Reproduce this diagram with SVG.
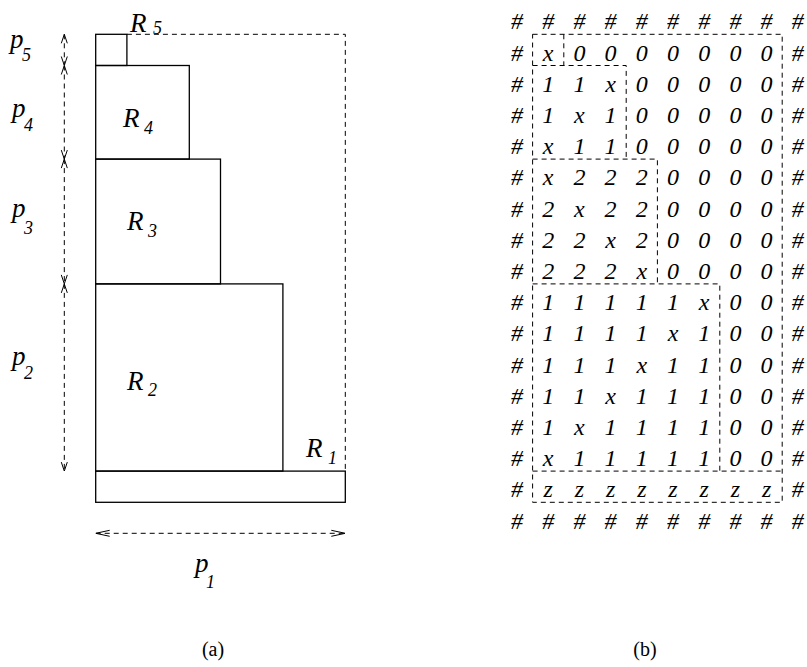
<svg xmlns="http://www.w3.org/2000/svg" width="807" height="667" viewBox="0 0 807 667">
<style>
.box{fill:none;stroke:#000;stroke-width:1.3}
.dash{fill:none;stroke:#000;stroke-width:1;stroke-dasharray:5,4}
.arr{fill:none;stroke:#000;stroke-width:1;stroke-dasharray:5,4}
.lab{font-family:"Liberation Serif",serif;font-style:italic;font-size:27px;fill:#000}
.sub{font-family:"Liberation Serif",serif;font-style:italic;font-size:18px;fill:#000}
.grid{font-family:"Liberation Serif",serif;font-style:italic;font-size:24px;fill:#000;text-anchor:middle}
.cap{font-family:"Liberation Serif",serif;font-size:20px;fill:#000;text-anchor:middle}
</style>
<defs>
<marker id="av" markerUnits="userSpaceOnUse" markerWidth="10" markerHeight="8" viewBox="0 0 10 8" refX="10" refY="4" orient="auto-start-reverse">
<path d="M1,1 L10,4 L1,7" fill="none" stroke="#000" stroke-width="1" stroke-dasharray="none"/>
</marker>
<marker id="ah" markerUnits="userSpaceOnUse" markerWidth="14" markerHeight="8" viewBox="0 0 14 8" refX="14" refY="4" orient="auto-start-reverse">
<path d="M0,1 L14,4 L0,7" fill="none" stroke="#000" stroke-width="1" stroke-dasharray="none"/>
</marker>
</defs>
<rect width="807" height="667" fill="#fff"/>

<g id="bin">
<path class="dash" d="M126.9,34.3 H345.3 V471.1"/>
</g>
<g id="R5">
<rect class="box" x="95.7" y="34.3" width="31.2" height="31.2"/>
<text class="lab" x="130" y="32">R</text><text class="sub" x="153" y="34">5</text>
</g>
<g id="R4">
<rect class="box" x="95.7" y="65.5" width="93.6" height="93.6"/>
<text class="lab" x="123" y="127">R</text><text class="sub" x="144" y="134">4</text>
</g>
<g id="R3">
<rect class="box" x="95.7" y="159.1" width="124.8" height="124.8"/>
<text class="lab" x="127" y="230">R</text><text class="sub" x="148" y="237">3</text>
</g>
<g id="R2">
<rect class="box" x="95.7" y="283.9" width="187.2" height="187.2"/>
<text class="lab" x="127" y="390">R</text><text class="sub" x="148" y="396">2</text>
</g>
<g id="R1">
<rect class="box" x="95.7" y="471.1" width="249.6" height="31.2"/>
<text class="lab" x="306" y="457">R</text><text class="sub" x="328" y="464">1</text>
</g>

<g id="connectors">
<line class="arr" x1="64.3" y1="34.3" x2="64.3" y2="65.5" marker-start="url(#av)" marker-end="url(#av)"/>
<line class="arr" x1="64.3" y1="65.5" x2="64.3" y2="159.1" marker-start="url(#av)" marker-end="url(#av)"/>
<line class="arr" x1="64.3" y1="159.1" x2="64.3" y2="283.9" marker-start="url(#av)" marker-end="url(#av)"/>
<line class="arr" x1="64.3" y1="283.9" x2="64.3" y2="471.1" marker-start="url(#av)" marker-end="url(#av)"/>
<line class="arr" x1="95.7" y1="533.3" x2="345.3" y2="533.3" marker-start="url(#ah)" marker-end="url(#ah)"/>
</g>

<g id="dims">
<text class="lab" x="10" y="48">p</text><text class="sub" x="22" y="61">5</text>
<text class="lab" x="12" y="117">p</text><text class="sub" x="24" y="131">4</text>
<text class="lab" x="12" y="217">p</text><text class="sub" x="24" y="234">3</text>
<text class="lab" x="12" y="365">p</text><text class="sub" x="24" y="379">2</text>
<text class="lab" x="195" y="572">p</text><text class="sub" x="206" y="588">1</text>
</g>

<g id="grid-regions">
<path class="dash" d="M532.6,34.3 H782.2 V502.3 H532.6 Z"/>
<path class="dash" d="M563.8,34.3 V65.5 M532.6,65.5 H626.2 V159.1 M532.6,159.1 H657.4 V283.9 M532.6,283.9 H719.8 V471.1 M532.6,471.1 H782.2"/>
</g>
<g id="grid">
<text class="grid" x="517 548.2 579.4 610.6 641.8 673 704.2 735.4 766.6 797.8" y="29.3">##########</text>
<text class="grid" x="517 548.2 579.4 610.6 641.8 673 704.2 735.4 766.6 797.8" y="60.5">#x0000000#</text>
<text class="grid" x="517 548.2 579.4 610.6 641.8 673 704.2 735.4 766.6 797.8" y="91.7">#11x00000#</text>
<text class="grid" x="517 548.2 579.4 610.6 641.8 673 704.2 735.4 766.6 797.8" y="122.9">#1x100000#</text>
<text class="grid" x="517 548.2 579.4 610.6 641.8 673 704.2 735.4 766.6 797.8" y="154.1">#x1100000#</text>
<text class="grid" x="517 548.2 579.4 610.6 641.8 673 704.2 735.4 766.6 797.8" y="185.3">#x2220000#</text>
<text class="grid" x="517 548.2 579.4 610.6 641.8 673 704.2 735.4 766.6 797.8" y="216.5">#2x220000#</text>
<text class="grid" x="517 548.2 579.4 610.6 641.8 673 704.2 735.4 766.6 797.8" y="247.7">#22x20000#</text>
<text class="grid" x="517 548.2 579.4 610.6 641.8 673 704.2 735.4 766.6 797.8" y="278.9">#222x0000#</text>
<text class="grid" x="517 548.2 579.4 610.6 641.8 673 704.2 735.4 766.6 797.8" y="310.1">#11111x00#</text>
<text class="grid" x="517 548.2 579.4 610.6 641.8 673 704.2 735.4 766.6 797.8" y="341.3">#1111x100#</text>
<text class="grid" x="517 548.2 579.4 610.6 641.8 673 704.2 735.4 766.6 797.8" y="372.5">#111x1100#</text>
<text class="grid" x="517 548.2 579.4 610.6 641.8 673 704.2 735.4 766.6 797.8" y="403.7">#11x11100#</text>
<text class="grid" x="517 548.2 579.4 610.6 641.8 673 704.2 735.4 766.6 797.8" y="434.9">#1x111100#</text>
<text class="grid" x="517 548.2 579.4 610.6 641.8 673 704.2 735.4 766.6 797.8" y="466.1">#x1111100#</text>
<text class="grid" x="517 548.2 579.4 610.6 641.8 673 704.2 735.4 766.6 797.8" y="497.3">#zzzzzzzz#</text>
<text class="grid" x="517 548.2 579.4 610.6 641.8 673 704.2 735.4 766.6 797.8" y="528.5">##########</text>
</g>

<g id="captions">
<text class="cap" x="213" y="656">(a)</text>
<text class="cap" x="645" y="656">(b)</text>
</g>
</svg>
